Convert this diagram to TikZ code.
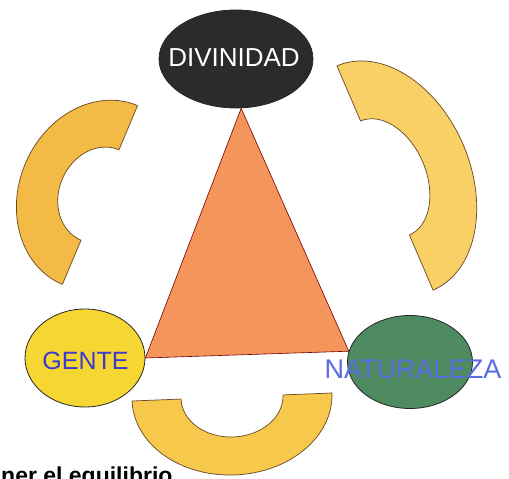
\documentclass[tikz,border=0pt]{standalone}
\usepackage{fontspec}
\setmainfont{Liberation Sans}
\usetikzlibrary{shapes.geometric}
\definecolor{gris}{HTML}{2B2B2B}
\definecolor{amarillo}{HTML}{F6D632}
\definecolor{verde}{HTML}{4E8B61}
\definecolor{naranja}{HTML}{F4955C}
\definecolor{arcoizq}{HTML}{F3BA46}
\definecolor{arcoder}{HTML}{F8D065}
\definecolor{arcoinf}{HTML}{F6C84C}
\definecolor{azul}{HTML}{3A3ACD}
\definecolor{azulclaro}{HTML}{5A6BE0}
\begin{document}
\begin{tikzpicture}[x=1pt,y=1pt,
    ovalo/.style={ellipse,draw=black!85,line width=0.8pt,inner sep=0pt},
    bloque/.style={draw=brown!55!black,line width=0.7pt,line join=round},
    rotulo/.style={inner sep=0pt,font=\fontsize{#1}{#1}\selectfont}]
    \useasboundingbox (0,0) rectangle (509,479);
    % los tres arcos
    \begin{scope}[shift={(100,284)},rotate=-22.8]
        \filldraw[bloque,fill=arcoizq] (0,97) arc[start angle=90,end angle=270,x radius=81,y radius=97]
            -- (0,-49) arc[start angle=270,end angle=90,x radius=41,y radius=49] -- cycle;
    \end{scope}
    \begin{scope}[shift={(385,301)},rotate=23.2]
        \filldraw[bloque,fill=arcoder] (0,-122) arc[start angle=-90,end angle=90,x radius=85,y radius=122]
            -- (0,62) arc[start angle=90,end angle=-90,x radius=41,y radius=62] -- cycle;
    \end{scope}
    \begin{scope}[shift={(232,82)},rotate=2.3]
        \filldraw[bloque,fill=arcoinf] (-100,0) arc[start angle=180,end angle=360,x radius=100,y radius=78]
            -- (51,0) arc[start angle=0,end angle=-180,x radius=51,y radius=40] -- cycle;
    \end{scope}
    % ovalos
    \node[ovalo,fill=gris,minimum width=154,minimum height=98] (div) at (236,420) {};
    \node[ovalo,fill=amarillo,minimum width=120,minimum height=98] (gente) at (85,121) {};
    \node[ovalo,fill=verde,minimum width=125,minimum height=93] (nat) at (410,117) {};
    % triangulo
    \filldraw[fill=naranja,draw=red!45!black,line width=0.6pt,line join=round] (div.-84) -- (gente.east) -- (nat.170) -- cycle;
    \node[rotulo=26,text=white] (divtxt) at (234,421) {DIVINIDAD};
    \node[rotulo=25,text=azul] (gentetxt) at (85.5,118) {GENTE};
    \node[rotulo=27,text=azulclaro] (nattxt) at (413,110) {NATURALEZA};
    \node[rotulo=23,anchor=base west] (pie) at (1,-4.5) {\bfseries ner el equilibrio};
\end{tikzpicture}
\end{document}
